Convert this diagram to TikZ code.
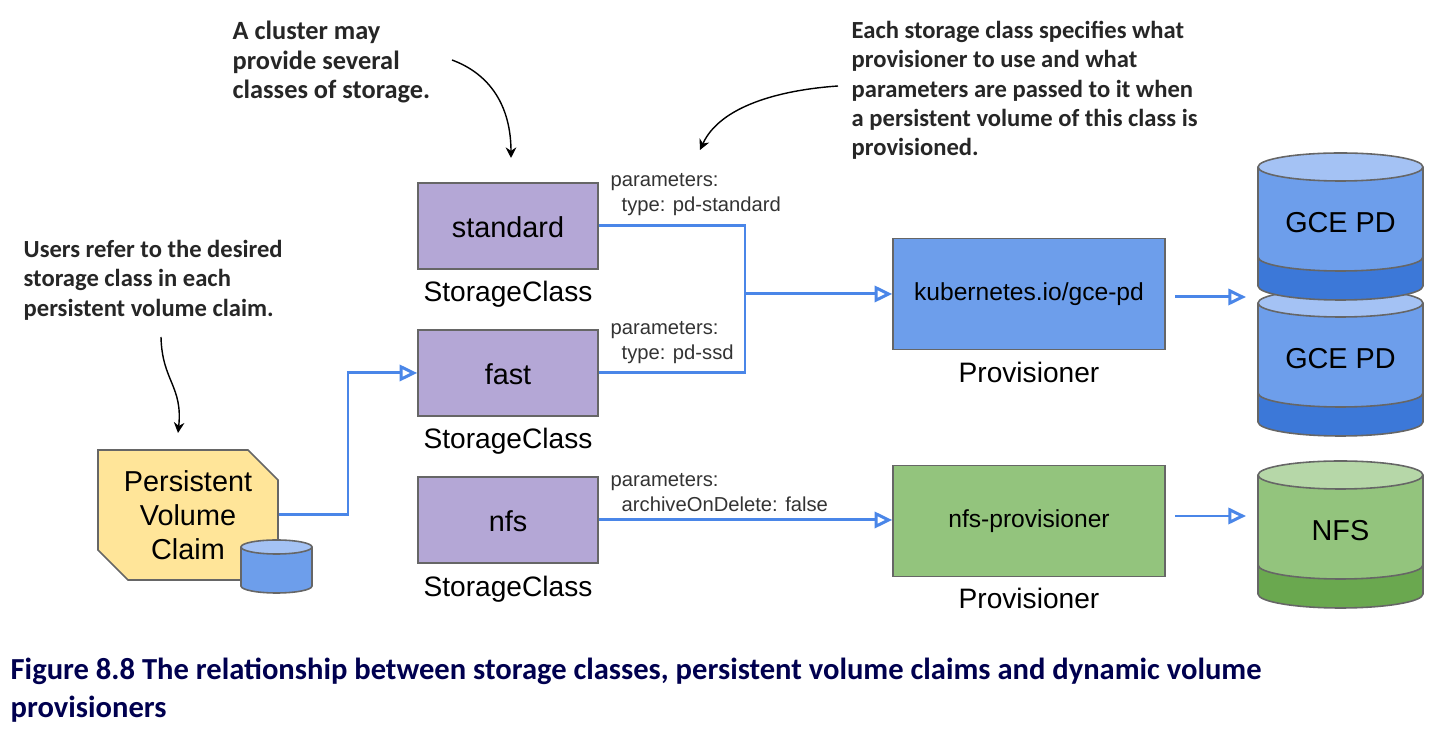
\documentclass[tikz,border=0pt]{standalone}
\usepackage{fontspec}
\setmainfont{Liberation Sans}
\newfontfamily\notefont{Carlito}
\usetikzlibrary{arrows.meta,shapes.misc}
\definecolor{boxpurple}{HTML}{B4A7D6}
\definecolor{boxblue}{HTML}{6D9EEB}
\definecolor{boxgreen}{HTML}{93C47D}
\definecolor{boxyellow}{HTML}{FFE599}
\definecolor{lineblue}{HTML}{4A86E8}
\definecolor{edgegrey}{HTML}{666666}
\definecolor{capnavy}{HTML}{00004F}
\definecolor{bandblue}{HTML}{3C78D8}
\definecolor{lidblue}{HTML}{A4C2F4}
\definecolor{bandgreen}{HTML}{6AA84F}
\definecolor{lidgreen}{HTML}{B6D7A8}
\tikzset{
  classbox/.style={draw=edgegrey, line width=0.45pt, fill=boxpurple, minimum width=1.8cm, minimum height=0.86cm, inner sep=0pt, text height=6.7pt, text depth=0pt, font=\fontsize{8.2}{10}\selectfont},
  provbox/.style={draw=edgegrey, line width=0.45pt, minimum width=2.72cm, minimum height=1.11cm, inner sep=0pt, font=\fontsize{7}{9}\selectfont},
  caplabel/.style={font=\fontsize{8}{10}\selectfont, inner sep=0pt},
  disklabel/.style={font=\fontsize{8.2}{10}\selectfont},
  paramlabel/.style={font=\fontsize{5.75}{7}\selectfont, text=black!80, align=left, anchor=north west, inner sep=0pt},
  notelabel/.style={font=\notefont\bfseries\fontsize{7}{8.35}\selectfont, text=black!85, align=left, anchor=north west, inner sep=0pt},
  flowline/.style={draw=lineblue, line width=0.85pt, -{Triangle[open, length=5pt, width=4.6pt]}},
  plainflow/.style={draw=lineblue, line width=0.85pt},
  noteline/.style={draw=black, line width=0.4pt, -{Stealth[length=3pt, width=3pt]}}
}
\begin{document}
\begin{tikzpicture}[x=1cm, y=1cm]
  \useasboundingbox (0,0) rectangle (14.48,7.36);

  % notes
  \node[notelabel, font=\notefont\bfseries\fontsize{7.5}{8.35}\selectfont] (noteclasses) at (2.32,7.155) {A cluster may\\provide several\\classes of storage.};
  \node[notelabel] (notespec) at (8.51,7.155) {Each storage class specifies what\\provisioner to use and what\\parameters are passed to it when\\a persistent volume of this class is\\provisioned.};
  \node[notelabel] (noteusers) at (0.23,4.965) {Users refer to the desired\\storage class in each\\persistent volume claim.};
  \coordinate (noteclassesend) at (5.11,5.78);
  \coordinate (notespecend) at (7.00,5.86);
  \coordinate (noteusersend) at (1.78,3.03);
  \draw[noteline] (4.52,6.76) .. controls (4.90,6.62) and (5.11,6.30) .. (noteclassesend);
  \draw[noteline] (8.38,6.50) .. controls (7.80,6.46) and (7.20,6.30) .. (notespecend);
  \draw[noteline] (1.61,3.99) .. controls (1.62,3.55) and (1.83,3.50) .. (noteusersend);

  % storage classes
  \node[classbox] (standard) at (5.08,5.10) {standard};
  \node[classbox] (fast) at (5.08,3.63) {fast};
  \node[classbox] (nfs) at (5.08,2.16) {nfs};
  \node[caplabel] (standardcap) at (5.08,4.415) {StorageClass};
  \node[caplabel] (fastcap) at (5.08,2.945) {StorageClass};
  \node[caplabel] (nfscap) at (5.08,1.47) {StorageClass};

  \node[paramlabel] (standardparam) at (6.10,5.63) {parameters:\\\hspace*{0.11cm}type: pd-standard};
  \node[paramlabel] (fastparam) at (6.10,4.15) {parameters:\\\hspace*{0.11cm}type: pd-ssd};
  \node[paramlabel] (nfsparam) at (6.10,2.63) {parameters:\\\hspace*{0.11cm}archiveOnDelete: false};

  % provisioners
  \node[provbox, fill=boxblue] (gceprov) at (10.29,4.42) {kubernetes.io/gce-pd};
  \node[provbox, fill=boxgreen] (nfsprov) at (10.29,2.15) {nfs-provisioner};
  \node[caplabel] (gcecap) at (10.29,3.64) {Provisioner};
  \node[caplabel] (nfsprovcap) at (10.29,1.38) {Provisioner};

  % claim
  \node[chamfered rectangle, chamfered rectangle corners={north east,south west}, chamfered rectangle sep=0.15cm,
    draw=edgegrey, line width=0.45pt, fill=boxyellow, minimum width=1.8cm, minimum height=1.3cm, inner sep=0pt,
    align=center, font=\fontsize{8.2}{9.6}\selectfont] (pvc) at (1.88,2.21) {Persistent\\Volume\\Claim};

  % connectors
  \coordinate (joint) at (7.45,4.42);
  \draw[plainflow] (standard.east) -| (joint);
  \draw[plainflow] (fast.east) -| (joint);
  \draw[flowline] (joint) -- (gceprov.west);
  \draw[flowline] (pvc.east) -| (3.48,3.63) -- (fast.west);
  \draw[flowline] (nfs.east) -- (nfs.east -| nfsprov.west);

  \coordinate (gcestart) at (11.75,4.39);
  \coordinate (gcearrow) at (12.46,4.39);
  \coordinate (nfsstart) at (11.75,2.20);
  \coordinate (nfsarrow) at (12.46,2.20);
  \draw[flowline] (gcestart) -- (gcearrow);
  \draw[flowline] (nfsstart) -- (nfsarrow);

  % cylinders, lower one first so the upper one covers it
  \foreach \ctop/\cbody/\cband/\clid/\cname/\ctxt in {
      4.33/boxblue/bandblue/lidblue/gcelower/GCE PD,
      5.69/boxblue/bandblue/lidblue/gceupper/GCE PD,
      2.61/boxgreen/bandgreen/lidgreen/nfsdisk/NFS}{
    \pgfmathsetmacro{\cmid}{\ctop-0.90}
    \pgfmathsetmacro{\cend}{\ctop-1.19}
    \fill[\cbody] (12.58,\ctop) -- (12.58,\cmid) arc[start angle=180, end angle=360, x radius=0.825, y radius=0.14] -- (14.23,\ctop) -- cycle;
    \fill[\cband] (12.58,\cmid) arc[start angle=180, end angle=360, x radius=0.825, y radius=0.14] -- (14.23,\cend) arc[start angle=0, end angle=-180, x radius=0.825, y radius=0.14] -- cycle;
    \draw[edgegrey, line width=0.45pt] (12.58,\ctop) -- (12.58,\cend) arc[start angle=180, end angle=360, x radius=0.825, y radius=0.14] -- (14.23,\ctop);
    \draw[edgegrey, line width=0.45pt] (12.58,\cmid) arc[start angle=180, end angle=360, x radius=0.825, y radius=0.14];
    \draw[edgegrey, line width=0.45pt, fill=\clid] (13.405,\ctop) ellipse[x radius=0.825, y radius=0.14];
    \node[disklabel] (\cname) at (13.405,\ctop-0.56) {\ctxt};
  }
  % small disk on the claim
  \fill[boxblue] (2.41,1.89) -- (2.41,1.50) arc[start angle=180, end angle=360, x radius=0.355, y radius=0.07] -- (3.12,1.89) -- cycle;
  \draw[edgegrey, line width=0.45pt] (2.41,1.89) -- (2.41,1.50) arc[start angle=180, end angle=360, x radius=0.355, y radius=0.07] -- (3.12,1.89);
  \draw[edgegrey, line width=0.45pt, fill=lidblue] (2.765,1.89) ellipse[x radius=0.355, y radius=0.07];

  % caption
  \node[font=\notefont\bfseries\fontsize{8.7}{11}\selectfont, text=capnavy, align=left, anchor=north west, inner sep=0pt] (caption) at (0.10,0.79) {Figure 8.8 The relationship between storage classes, persistent volume claims and dynamic volume\\provisioners};
\end{tikzpicture}
\end{document}
